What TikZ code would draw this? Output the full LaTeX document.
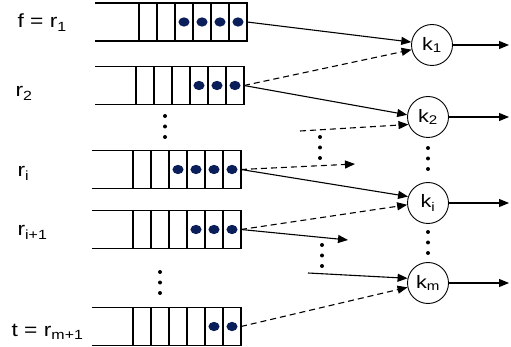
\documentclass[tikz,border=0pt]{standalone}
\usepackage{fontspec}
\setmainfont{Liberation Sans}
\newfontfamily\widefont[FakeStretch=1.2]{Liberation Sans}
\usetikzlibrary{arrows.meta}
\definecolor{tokblue}{RGB}{10,30,90}

% one buffer: name, left x, right x, centre y, number of tokens
\newcommand\buffer[5]{%
  \draw (#2,#4-19) -- (#3,#4-19) -- (#3,#4+19) -- (#2,#4+19);
  \foreach \c in {1,...,6} \draw (#3-18*\c,#4-19) -- (#3-18*\c,#4+19);
  \foreach \c in {1,...,#5} \fill[tokblue] (#3-18*\c+9,#4) ellipse [x radius=5.6pt,y radius=4.6pt];
  \coordinate (#1) at (#3,#4);
}
% three dots in a column: x, top y
\newcommand\vdotsat[2]{%
  \foreach \d in {0,1,2} \fill (#1,#2+10.5*\d) circle (2pt);
}

\begin{document}
\begin{tikzpicture}[x=1pt,y=-1pt,line width=1.1pt,
  proc/.style={shape=circle,draw=black,line width=0.9pt,minimum size=41pt,inner sep=0pt,font=\widefont\fontsize{18}{20}\selectfont},
  lbl/.style={anchor=base west,inner sep=0pt,font=\widefont\fontsize{19}{22}\selectfont},
  flow/.style={-{Triangle[length=10pt,width=8pt]}},
  flowd/.style={flow,dash pattern=on 6pt off 4pt}]
\useasboundingbox (0,0) rectangle (511,347);

\buffer{q1}{95}{247}{22}{4}
\buffer{q2}{95}{244}{85.5}{3}
\buffer{qi}{92}{241}{169.5}{4}
\buffer{qj}{92}{241}{229.5}{3}
\buffer{qt}{92}{241}{326.5}{2}

\node[lbl] (l1) at (17,28) {f = r\textsubscript{1}};
\node[lbl] (l2) at (15,97) {r\textsubscript{2}};
\node[lbl] (li) at (17,177) {r\textsubscript{i}};
\node[lbl] (lj) at (17,236) {r\textsubscript{i+1}};
\node[lbl] (lt) at (11,336) {t = r\textsubscript{m+1}};

\node[proc] (k1) at (432,45) {k\textsubscript{1}};
\node[proc] (k2) at (428,117) {k\textsubscript{2}};
\node[proc] (ki) at (428,203) {k\textsubscript{i}};
\node[proc] (km) at (428,283) {k\textsubscript{m}};

\coordinate (o1) at (509,45);
\coordinate (o2) at (509,117);
\coordinate (oi) at (509,203);
\coordinate (om) at (509,283);
\draw[flow] (k1.east) -- (o1);
\draw[flow] (k2.east) -- (o2);
\draw[flow] (ki.east) -- (oi);
\draw[flow] (km.east) -- (om);

\coordinate (a2) at (300,131);
\coordinate (bi) at (355,164);
\coordinate (bj) at (348,240);
\coordinate (am) at (308,273);

\draw[flow] (q1) -- (k1.172);
\draw[flowd] (q2) -- (k1.193);
\draw[flow] (q2) -- (k2.174);
\draw[flowd] (a2) -- (k2.201);
\draw[flowd] (qi) -- (bi);
\draw[flow] (qi) -- (ki.162);
\draw[flowd] (qj) -- (ki.185);
\draw[flow] (qj) -- (bj);
\draw[flow] (am) -- (km.167);
\draw[flowd] (qt) -- (km.192);

\vdotsat{165}{116}
\vdotsat{160}{272}
\vdotsat{320}{137}
\vdotsat{322}{245}
\vdotsat{428}{148}
\vdotsat{428}{232}
\end{tikzpicture}
\end{document}
